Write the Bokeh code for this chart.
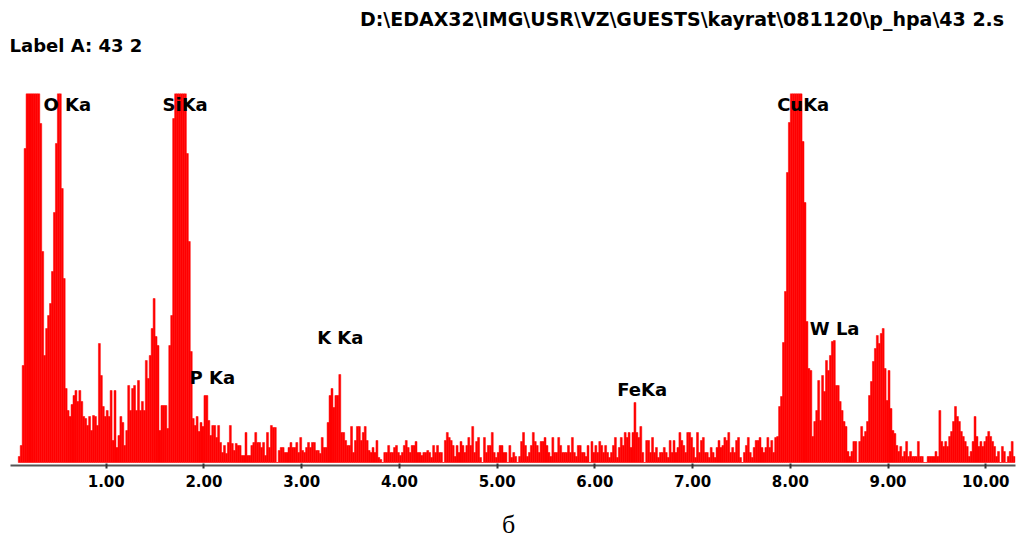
import numpy as np
from bokeh.plotting import figure
from bokeh.layouts import column
from bokeh.models import Range1d, Label, FixedTicker, NumeralTickFormatter
from bokeh.embed import file_html
from bokeh.resources import INLINE

# EDS spectrum, 0.02 keV channels starting at 0.10 keV (counts in arbitrary units)
E_START = 0.10
CHANNEL = 0.02

counts_0_2kev = [6, 17, 97, 314, 480, 560, 620, 600, 540, 470, 400, 339, 211, 107, 134, 147, 159, 191, 250, 319,
                 372, 400, 274, 184, 74, 52, 46, 58, 67, 72, 61, 72, 61, 46, 44, 37, 46, 32, 47, 46,
                 37, 119, 87, 56, 46, 52, 46, 72, 22, 72, 15, 27, 46, 40, 17, 32, 77, 52, 74, 77,
                 52, 82, 52, 61, 52, 102, 84, 107, 134, 164, 126, 117, 32, 57, 57, 57, 34, 117, 147, 344,
                 420, 520, 560, 540, 480, 400, 309, 221, 111, 44, 37, 46, 31, 40, 36]
counts_2_4kev = [67, 67, 42, 27, 37, 37, 25, 37, 20, 10, 17, 9, 20, 37, 19, 12, 19, 17, 17, 7,
                 7, 30, 7, 7, 17, 20, 30, 20, 20, 15, 20, 7, 30, 15, 37, 35, 35, 0, 12, 15,
                 15, 10, 10, 15, 20, 15, 15, 20, 10, 25, 12, 10, 15, 20, 15, 20, 20, 12, 12, 9,
                 25, 15, 15, 40, 67, 74, 55, 67, 67, 88, 30, 30, 22, 17, 17, 36, 10, 22, 36, 36,
                 22, 30, 36, 22, 12, 10, 15, 10, 22, 5, 3, 0, 10, 10, 17, 10, 10, 15, 17, 10]
counts_4_6kev = [7, 10, 17, 22, 15, 10, 17, 17, 21, 10, 10, 7, 10, 10, 12, 10, 5, 17, 10, 17,
                 10, 10, 0, 22, 30, 25, 22, 17, 6, 17, 10, 21, 17, 10, 17, 25, 17, 36, 10, 21,
                 25, 5, 0, 25, 10, 17, 17, 30, 10, 5, 10, 17, 17, 10, 10, 0, 17, 5, 10, 6,
                 0, 6, 21, 30, 17, 6, 10, 17, 30, 21, 17, 10, 21, 21, 25, 17, 10, 6, 25, 10,
                 10, 25, 17, 10, 10, 10, 17, 10, 25, 10, 6, 17, 17, 10, 10, 6, 17, 0, 21, 10]
counts_6_8kev = [17, 10, 21, 17, 10, 17, 10, 5, 10, 17, 25, 5, 15, 25, 17, 30, 25, 30, 15, 30,
                 60, 30, 25, 36, 10, 0, 22, 22, 10, 25, 10, 15, 5, 10, 10, 15, 10, 5, 22, 10,
                 22, 10, 15, 30, 22, 17, 10, 30, 30, 25, 15, 5, 30, 10, 22, 25, 10, 10, 5, 15,
                 10, 5, 15, 22, 15, 17, 25, 22, 30, 10, 15, 10, 22, 25, 5, 0, 10, 17, 25, 10,
                 5, 15, 22, 22, 25, 15, 10, 15, 25, 15, 22, 10, 25, 26, 56, 66, 120, 171, 290, 340]
counts_8_10kev = [420, 480, 500, 490, 450, 390, 321, 260, 141, 94, 92, 26, 41, 52, 82,
                  42, 87, 71, 102, 92, 107, 121, 122, 77, 77, 61, 52, 41, 36, 11, 6, 11, 21, 21, 0,
                  21, 36, 26, 31, 41, 67, 81, 101, 114, 127, 119, 129, 134, 94, 62, 92, 54, 32, 29, 17,
                  11, 16, 6, 11, 21, 6, 11, 6, 6, 6, 21, 6, 6, 0, 0, 6, 6, 6, 6, 11,
                  6, 52, 21, 16, 21, 16, 26, 31, 41, 56, 46, 41, 31, 26, 21, 16, 6, 11, 21, 46,
                  26, 16, 21, 16, 21, 26, 31, 26, 21, 16, 6, 11, 0, 16, 11, 0, 6, 11, 21, 6]

tick_values = [1, 2, 3, 4, 5, 6, 7, 8, 9, 10]
peak_names = ["O Ka", "SiKa", "P Ka", "K Ka", "FeKa", "CuKa", "W La"]
peak_label_x = [0.358, 1.576, 1.852, 3.158, 6.228, 7.865, 8.199]
peak_label_y = [358, 358, 85, 125, 73, 358, 134]

header_path = "D:\\EDAX32\\IMG\\USR\\VZ\\GUESTS\\kayrat\\081120\\p_hpa\\43 2.s"
header_label = "Label A: 43 2"
caption = "б"

counts = counts_0_2kev + counts_2_4kev + counts_4_6kev + counts_6_8kev + counts_8_10kev
energy = E_START + CHANNEL * (np.arange(len(counts)) + 0.5)

FONT = "DejaVu Sans"


def text_strip(height, y_top, y_bottom):
    f = figure(width=1021, height=height, output_backend="svg", toolbar_location=None,
               x_range=Range1d(0, 1021), y_range=Range1d(y_bottom, y_top),
               x_axis_location=None, y_axis_location=None, title_location=None,
               min_border=0, min_border_left=0, min_border_right=0,
               min_border_top=0, min_border_bottom=0)
    f.outline_line_color = None
    f.grid.visible = False
    f.background_fill_color = "white"
    f.border_fill_color = "white"
    return f


# header strip (page pixels 0..93)
top = text_strip(93, 0, 93)
top.add_layout(Label(x=355, y=18.7, text=header_path, text_font=FONT, text_font_style="bold",
                     text_font_size="19px", text_color="black", text_baseline="alphabetic"))
top.add_layout(Label(x=-1, y=44.7, text=header_label, text_font=FONT, text_font_style="bold",
                     text_font_size="18px", text_color="black", text_baseline="alphabetic"))

# spectrum (page pixels 93..493)
p = figure(width=1021, height=400, output_backend="svg", toolbar_location=None,
           x_range=Range1d(0.0205, 10.304), y_range=Range1d(-3, 369),
           y_axis_location=None, title_location=None,
           min_border=0, min_border_left=10, min_border_right=6, min_border_top=0, min_border_bottom=28)
p.outline_line_color = None
p.grid.visible = False
p.background_fill_color = "white"
p.border_fill_color = "white"

p.vbar(x=energy, top=counts, bottom=0, width=CHANNEL, fill_color="#FF0000",
       line_color="#FF0000", line_width=0.5)

ax = p.xaxis[0]
ax.ticker = FixedTicker(ticks=tick_values)
ax.formatter = NumeralTickFormatter(format="0.00")
ax.axis_line_color = "#555555"
ax.axis_line_width = 2
ax.major_tick_line_color = "#333333"
ax.major_tick_line_width = 2
ax.major_tick_in = 2
ax.major_tick_out = 3
ax.minor_tick_line_color = None
ax.major_label_text_font = FONT
ax.major_label_text_font_style = "bold"
ax.major_label_text_font_size = "15px"
ax.major_label_text_color = "black"
ax.major_label_standoff = 6

for name, lx, ly in zip(peak_names, peak_label_x, peak_label_y):
    p.add_layout(Label(x=lx, y=ly, text=name, text_font=FONT, text_font_style="bold",
                       text_font_size="18px", text_color="black", text_baseline="alphabetic"))

# caption strip (page pixels 493..540)
bottom = text_strip(47, 493, 540)
bottom.add_layout(Label(x=506, y=524, text=caption, text_font="Liberation Serif",
                        text_font_size="26px", text_color="black", text_align="center",
                        text_baseline="middle"))

layout = column(top, p, bottom, spacing=0)
open("out.html", "w").write(file_html(layout, INLINE))
